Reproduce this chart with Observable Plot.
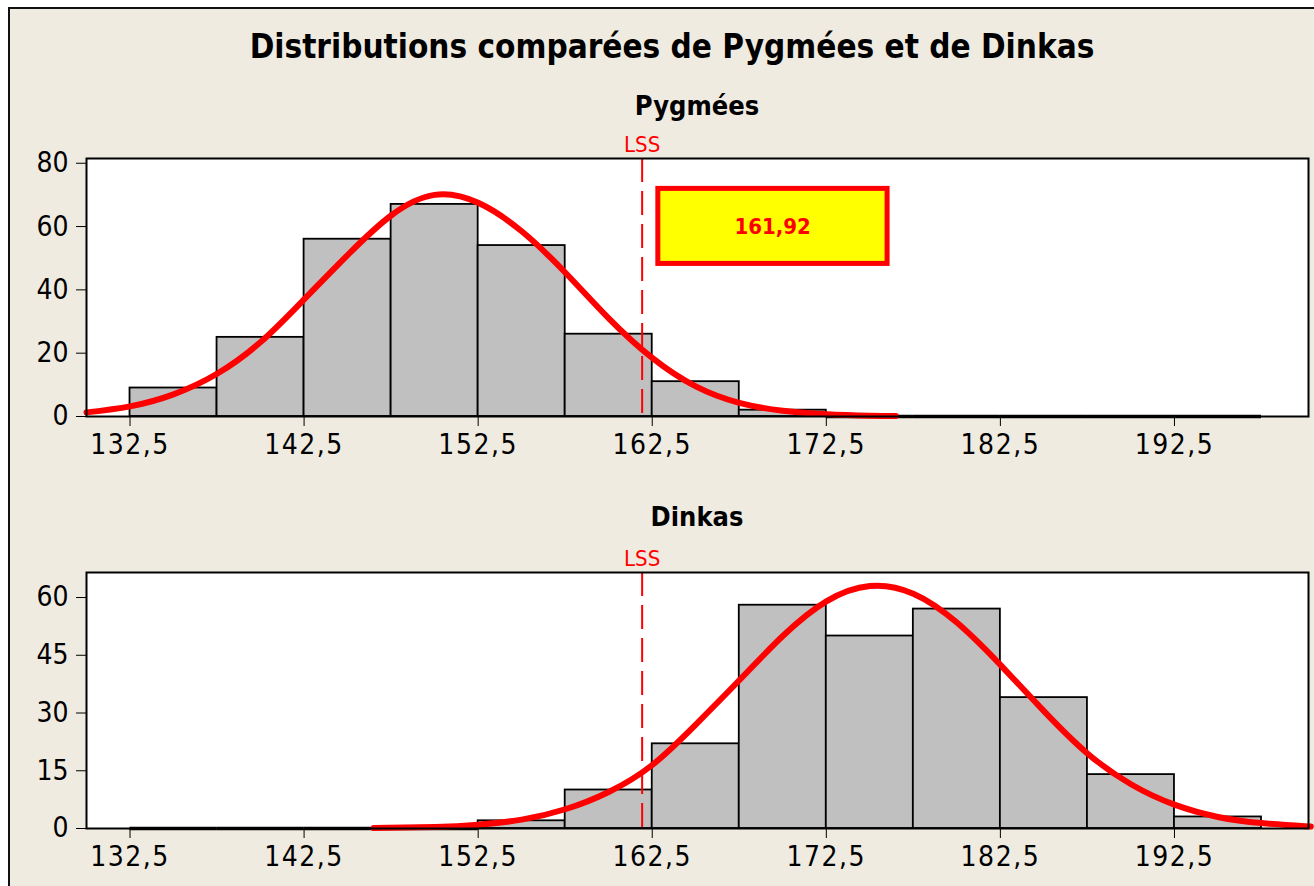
<!DOCTYPE html>
<html>
<head>
<meta charset="utf-8">
<script src="https://cdn.jsdelivr.net/npm/d3@7"></script>
<script src="https://cdn.jsdelivr.net/npm/@observablehq/plot@0.6"></script>
<style>
  html, body { margin: 0; padding: 0; background: #ffffff; width: 1314px; height: 886px; overflow: hidden; }
  #page { position: absolute; left: 8px; top: 7px; width: 1330px; height: 900px; border: 2px solid #111; background: #EFEBE1; }
  .txt { position: absolute; font-family: "DejaVu Sans Condensed", "DejaVu Sans", sans-serif; color: #000; text-align: center; white-space: nowrap; }
  #title { left: 0; width: 1344px; top: 27px; font-size: 33px; font-weight: bold; }
  #sub1 { left: 86px; width: 1222px; top: 90px; font-size: 27px; font-weight: bold; }
  #sub2 { left: 86px; width: 1222px; top: 501px; font-size: 27px; font-weight: bold; }
  .plot { position: absolute; left: 0; }
  g[aria-label="x-axis tick label"] text { letter-spacing: 1.5px; }
</style>
</head>
<body>
<div id="page"></div>
<div class="txt" id="title">Distributions comparées de Pygmées et de Dinkas</div>
<div class="txt" id="sub1">Pygmées</div>
<div class="txt" id="sub2">Dinkas</div>
<div class="plot" id="p1" style="top:128px"></div>
<div class="plot" id="p2" style="top:542px"></div>
<script>
// ---- data ----
const xTicks = [132.5, 142.5, 152.5, 162.5, 172.5, 182.5, 192.5];
const binStarts = [132.5, 137.5, 142.5, 147.5, 152.5, 157.5, 162.5, 167.5, 172.5, 177.5, 182.5, 187.5, 192.5];
const binWidth = 5;
const pygmeesCounts = [9, 25, 56, 67, 54, 26, 11, 2, 0, 0, 0, 0, 0];
const dinkasCounts  = [0, 0, 0, 0, 2, 10, 22, 58, 50, 57, 34, 14, 3];

const pygmeesCurveX = [130, 132.5, 135, 137.5, 140, 142.5, 145, 147.5, 150, 152.5, 155, 157.5, 160, 162.5, 165, 167.5, 170, 172.5, 175, 176.5];
const pygmeesCurveY = [1.3, 3.2, 7, 13.5, 23.5, 37, 51, 63.5, 70, 67.5, 58.5, 45.5, 31, 18.5, 9.5, 4.3, 1.8, 0.7, 0.25, 0.15];

const dinkasCurveX = [146.5, 150, 152.5, 155, 157.5, 160, 162.5, 165, 167.5, 170, 172.5, 175, 177.5, 180, 182.5, 185, 187.5, 190, 192.5, 195, 197.5, 200, 200.2];
const dinkasCurveY = [0.1, 0.4, 1, 2.3, 5, 9.5, 16.5, 27, 38.5, 50, 59, 63, 61, 53.5, 42.5, 30.5, 19.5, 11.5, 6.2, 3, 1.4, 0.6, 0.55];

const lss = 161.92;
const yTicksPygmees = [0, 20, 40, 60, 80];
const yTicksDinkas = [0, 15, 30, 45, 60];

const fmt = d => d.toFixed(1).replace(".", ",");
const FONT = '"DejaVu Sans Condensed", "DejaVu Sans", sans-serif';

function panel({counts, cx, cy, yDomain, yTicks, height, frameH, box}) {
  const bins = binStarts.map((s, i) => ({x1: s, x2: s + binWidth, count: counts[i]}));
  const curve = cx.map((x, i) => ({x, y: cy[i]}));
  const marks = [
    Plot.frame({fill: "white", stroke: "none"}),
    Plot.rect(bins.filter(d => d.count > 0), {x1: "x1", x2: "x2", y1: 0, y2: "count", fill: "#C0C0C0", stroke: "#000", strokeWidth: 1.8}),
    Plot.ruleY(bins.filter(d => d.count === 0), {x1: "x1", x2: "x2", y: 0, stroke: "#000", strokeWidth: 3.5}),
    Plot.ruleX([lss], {stroke: "#FF0000", strokeWidth: 2, strokeDasharray: "24,9"}),
    Plot.text([lss], {x: d => d, frameAnchor: "top", lineAnchor: "bottom", dy: -7, text: () => "LSS", fill: "#FF0000", fontSize: 22}),
    Plot.line(curve, {x: "x", y: "y", stroke: "#FF0000", strokeWidth: 6, curve: "natural"}),
  ];
  if (box) {
    marks.push(
      Plot.rect([lss], {x1: d => d + 0.93, x2: d => d + 14.1, y1: 48.2, y2: 71.9, fill: "#FFFF00", stroke: "#FF0000", strokeWidth: 5}),
      Plot.text([lss], {x: d => d + 7.5, y: 60, text: d => d.toFixed(2).replace(".", ","), fill: "#FF0000", fontWeight: "bold", fontSize: 22})
    );
  }
  marks.push(
    Plot.frame({stroke: "#000", strokeWidth: 2}),
    Plot.axisX({ticks: xTicks, tickFormat: fmt, tickSize: 10, tickPadding: 8, label: null, fontSize: 28}),
    Plot.axisY({ticks: yTicks, tickSize: 10, tickPadding: 8, label: null, fontSize: 28})
  );
  return Plot.plot({
    width: 1314,
    height,
    marginLeft: 86,
    marginRight: 6,
    marginTop: 30,
    marginBottom: height - 30 - frameH,
    x: {domain: [130, 200.2]},
    y: {domain: yDomain},
    style: {background: "transparent", fontFamily: FONT, fontSize: "28px", color: "#000", overflow: "visible"},
    marks
  });
}

document.getElementById("p1").appendChild(panel({
  counts: pygmeesCounts, cx: pygmeesCurveX, cy: pygmeesCurveY,
  yDomain: [0, 81.5], yTicks: yTicksPygmees, height: 338, frameH: 258, box: true
}));
document.getElementById("p2").appendChild(panel({
  counts: dinkasCounts, cx: dinkasCurveX, cy: dinkasCurveY,
  yDomain: [0, 66.5], yTicks: yTicksDinkas, height: 336, frameH: 256, box: false
}));
</script>
</body>
</html>
